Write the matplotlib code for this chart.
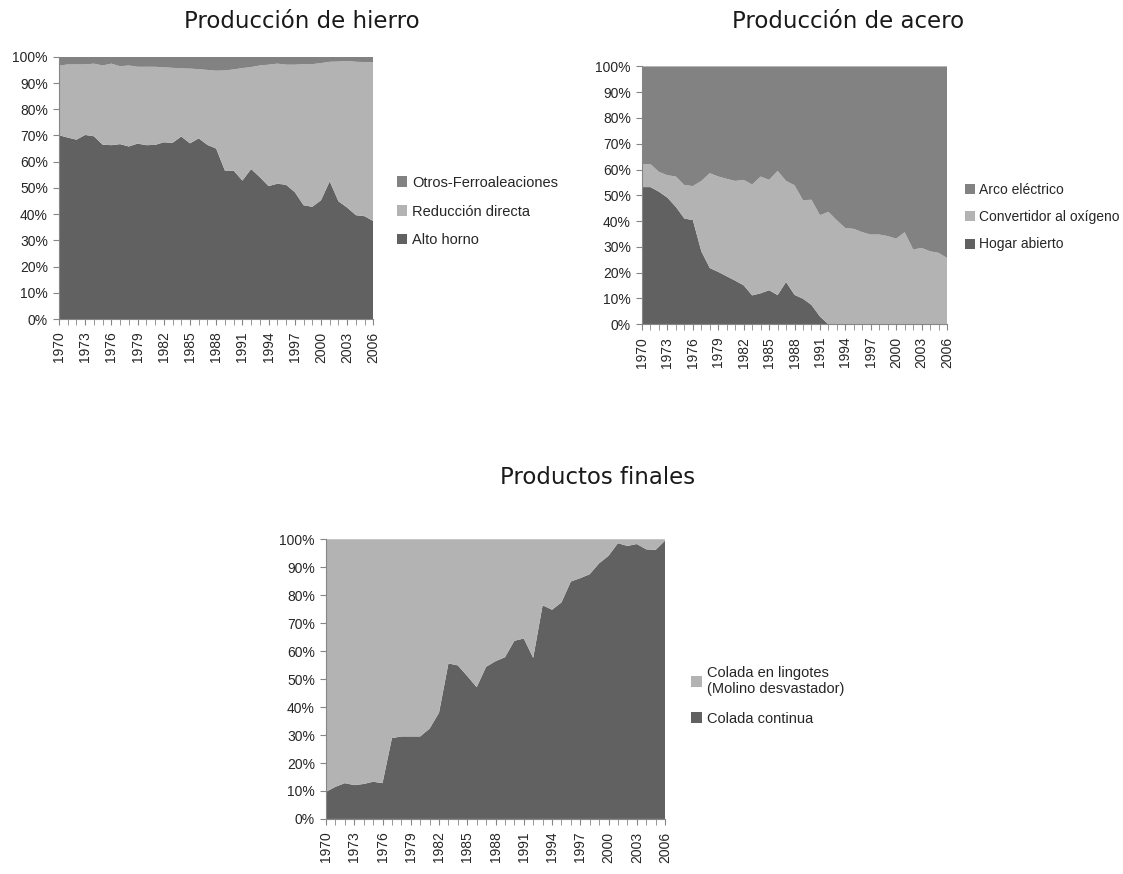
import numpy as np
import matplotlib.pyplot as plt
from matplotlib.patches import Patch
from matplotlib.ticker import FixedLocator, PercentFormatter

years = list(range(1970, 2007))

# Producción de hierro (% del total)
alto_horno = [70.1, 69.2, 68.4, 70.2, 69.7, 66.5, 66.3, 66.7, 65.8, 66.9,
              66.3, 66.4, 67.4, 67.2, 69.6, 67.0, 68.9, 66.4, 65.0, 56.6,
              56.6, 52.8, 57.2, 54.1, 50.7, 51.6, 51.2, 48.4, 43.4, 42.8,
              45.3, 52.5, 44.9, 42.5, 39.6, 39.2, 37.3]
otros_ferro = [3.4, 2.9, 2.9, 2.9, 2.6, 3.3, 2.6, 3.6, 3.3, 3.8,
               3.8, 3.8, 4.0, 4.2, 4.4, 4.5, 4.7, 5.0, 5.3, 5.2,
               4.8, 4.3, 3.9, 3.3, 3.0, 2.6, 3.0, 3.0, 2.8, 2.8,
               2.4, 1.9, 1.8, 1.6, 1.9, 2.0, 2.0]
reduccion = [100 - a - o for a, o in zip(alto_horno, otros_ferro)]

# Producción de acero (% del total)
hogar_abierto = [53.2, 53.2, 51.4, 49.1, 45.5, 41.0, 40.4, 28.3, 21.8, 20.3,
                 18.6, 16.9, 15.1, 11.2, 12.0, 13.2, 11.3, 16.4, 11.4, 9.9,
                 7.5, 3.0, 0.0, 0.0, 0.0, 0.0, 0.0, 0.0, 0.0, 0.0,
                 0.0, 0.0, 0.0, 0.0, 0.0, 0.0, 0.0]
hogar_mas_conv = [62.1, 62.1, 59.1, 57.8, 57.3, 54.0, 53.6, 55.6, 58.6, 57.3,
                  56.4, 55.6, 56.0, 54.2, 57.3, 56.0, 59.5, 55.6, 53.9, 48.1,
                  48.3, 42.3, 43.6, 40.3, 37.3, 37.0, 35.7, 34.8, 34.8, 34.2,
                  33.2, 35.7, 29.0, 29.6, 28.3, 27.7, 25.7]
convertidor = [t - h for t, h in zip(hogar_mas_conv, hogar_abierto)]
arco = [100 - t for t in hogar_mas_conv]

# Productos finales (% del total)
colada_continua = [9.7, 11.5, 12.8, 12.1, 12.5, 13.3, 12.8, 28.9, 29.5, 29.5,
                   29.5, 32.3, 38.0, 55.6, 54.9, 51.1, 47.1, 54.4, 56.4, 57.8,
                   63.7, 64.5, 57.6, 76.4, 74.8, 77.4, 84.9, 86.1, 87.5, 91.4,
                   94.1, 98.6, 97.6, 98.3, 96.4, 96.2, 99.5]
colada_lingotes = [100 - c for c in colada_continua]

DARK = '#616161'
LIGHT = '#b3b3b3'
MID = '#828282'
AXIS = '#868686'

plt.rcParams['font.family'] = ['Liberation Sans', 'DejaVu Sans']
plt.rcParams['text.color'] = '#262626'
plt.rcParams['xtick.labelcolor'] = '#262626'
plt.rcParams['ytick.labelcolor'] = '#262626'
TITLE_FONT = ['DejaVu Sans']


def area_chart(ax, series, colors, labels, legend_x, legend_y, spacing,
               legend_size=10.5):
    ax.stackplot(years, *series, colors=colors, linewidth=0)
    ax.set_xlim(1970, 2006)
    ax.set_ylim(0, 100)
    ax.yaxis.set_major_locator(FixedLocator(np.arange(0, 101, 10)))
    ax.yaxis.set_major_formatter(PercentFormatter(decimals=0))
    ax.set_xticks(years[::3])
    ax.set_xticks(years, minor=True)
    ax.tick_params(axis='x', which='both', length=4, color=AXIS,
                   labelrotation=90, labelsize=10, pad=5)
    ax.tick_params(axis='y', length=4, color=AXIS, labelsize=10, pad=4)
    for side in ('top', 'right'):
        ax.spines[side].set_visible(False)
    for side in ('left', 'bottom'):
        ax.spines[side].set_color(AXIS)
    # legend order is reversed so the top series sits first
    handles = [Patch(facecolor=c) for c in colors][::-1]
    ax.legend(handles, labels[::-1], loc='center left',
              bbox_to_anchor=(legend_x, legend_y), frameon=False,
              fontsize=legend_size, handlelength=0.75, handleheight=0.75,
              handletextpad=0.3, labelspacing=spacing, borderaxespad=0)


fig = plt.figure(figsize=(11.23, 8.74), dpi=100)

ax1 = fig.add_axes([0.0525, 0.635, 0.2800, 0.300])
area_chart(ax1, [alto_horno, reduccion, otros_ferro], [DARK, LIGHT, MID],
           ['Alto horno', 'Reducción directa', 'Otros-Ferroaleaciones'],
           1.055, 0.41, 1.0)
fig.text(302 / 1123, 1 - 22 / 874, 'Producción de hierro', ha='center',
         va='center', fontsize=16.5, family=TITLE_FONT, color='#1a1a1a')

ax2 = fig.add_axes([0.5717, 0.629, 0.2716, 0.295])
area_chart(ax2, [hogar_abierto, convertidor, arco], [DARK, LIGHT, MID],
           ['Hogar abierto', 'Convertidor al oxígeno', 'Arco eléctrico'],
           1.04, 0.415, 0.95, legend_size=10)
fig.text(848 / 1123, 1 - 22 / 874, 'Producción de acero', ha='center',
         va='center', fontsize=16.5, family=TITLE_FONT, color='#1a1a1a')

ax3 = fig.add_axes([0.2903, 0.063, 0.3019, 0.320])
area_chart(ax3, [colada_continua, colada_lingotes], [DARK, LIGHT],
           ['Colada continua', 'Colada en lingotes\n(Molino desvastador)'],
           1.06, 0.44, 1.05)
fig.text(598 / 1123, 1 - 478 / 874, 'Productos finales', ha='center',
         va='center', fontsize=16.5, family=TITLE_FONT, color='#1a1a1a')

fig.savefig('out.png', dpi=100)
